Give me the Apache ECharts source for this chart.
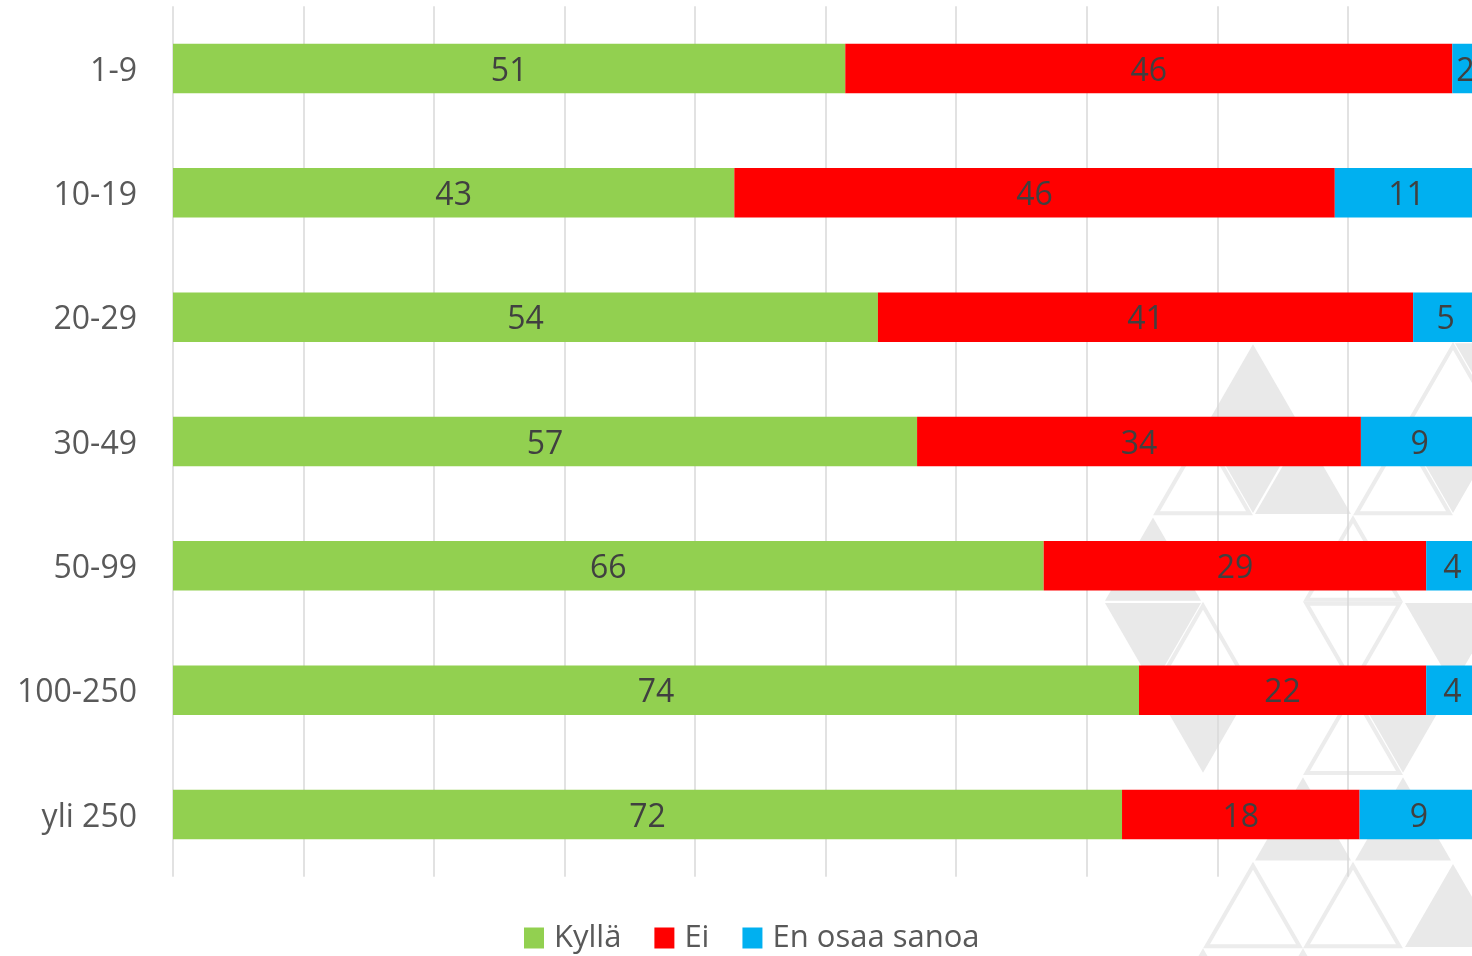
<!DOCTYPE html>
<html>
<head>
<meta charset="utf-8">
<script src="https://cdn.jsdelivr.net/npm/echarts@6/dist/echarts.min.js"></script>
<style>
  html, body { margin: 0; padding: 0; background: #ffffff; }
  #chart { width: 1472px; height: 956px; }
</style>
</head>
<body>
<div id="chart"></div>
<script>
// ---- data ----
const categories = ['1-9', '10-19', '20-29', '30-49', '50-99', '100-250', 'yli 250'];
const seriesNames = ['Kyllä', 'Ei', 'En osaa sanoa'];
const kylla = [51.5, 43.0, 54.0, 57.0, 66.7, 74.0, 72.7];
const ei    = [46.5, 46.0, 41.0, 34.0, 29.3, 22.0, 18.2];
const eos   = [2.0, 11.0, 5.0, 9.0, 4.0, 4.0, 9.1];
const colors = ['#92d050', '#ff0000', '#00b0f0'];
const FONT = '"Open Sans", "Noto Sans", sans-serif';

// ---- decorative background watermark (triangle lattice) ----
const TH = 86.6;
function V(k, n) { return [1253 - 50 * k + 100 * n, 342 + TH * k]; }
function U(k, n) { return [V(k, n), V(k + 1, n), V(k + 1, n + 1)]; }
function D(k, n) { return [V(k, n), V(k, n + 1), V(k + 1, n + 1)]; }
function inset(pts, f) {
  const cx = (pts[0][0] + pts[1][0] + pts[2][0]) / 3;
  const cy = (pts[0][1] + pts[1][1] + pts[2][1]) / 3;
  return pts.map(p => [cx + (p[0] - cx) * f, cy + (p[1] - cy) * f]);
}
const filledTris = [U(0,0), D(1,0), U(1,1), U(2,0), D(3,0), D(4,1), D(4,3), U(5,3), U(5,4), U(6,5), D(1,2), D(3,3), D(0,2)];
const outlineTris = [U(1,0), U(0,2), U(6,3), U(6,4), D(3,2), U(1,2), U(3,1), U(2,2), U(4,3), U(7,3), U(7,4)];
const graphics = [];
filledTris.forEach(t => graphics.push({
  type: 'polygon', silent: true, z: -10,
  shape: { points: inset(t, 0.96) },
  style: { fill: '#e9e9e9' }
}));
outlineTris.forEach(t => graphics.push({
  type: 'polygon', silent: true, z: -10,
  shape: { points: inset(t, 0.93) },
  style: { fill: 'none', stroke: '#ececec', lineWidth: 4 }
}));

const chart = echarts.init(document.getElementById('chart'), null, { renderer: 'canvas' });

function mkSeries(name, data, color) {
  return {
    name: name,
    type: 'bar',
    stack: 'total',
    data: data,
    barWidth: 49.5,
    itemStyle: { color: color },
    label: {
      show: true,
      position: 'inside',
      offset: [0, 3],
      formatter: p => String(Math.floor(p.value + 1e-9)),
      color: '#404040',
      fontSize: 32,
      fontFamily: FONT
    },
    emphasis: { disabled: true }
  };
}

chart.setOption({
  animation: false,
  backgroundColor: '#ffffff',
  textStyle: { fontFamily: FONT },
  graphic: { elements: graphics },
  grid: { left: 173, top: 6.3, width: 1305.4, height: 870.4, containLabel: false, outerBoundsMode: 'none' },
  legend: {
    data: seriesNames,
    left: 524,
    top: 922,
    padding: 0,
    icon: 'rect',
    itemWidth: 20,
    itemHeight: 21,
    itemGap: 33,
    selectedMode: false,
    textStyle: { fontSize: 31, color: '#595959', fontFamily: FONT, lineHeight: 32, padding: [0, 0, 0, 5] }
  },
  xAxis: {
    type: 'value',
    min: 0,
    max: 100,
    interval: 10,
    axisLine: { show: false },
    axisTick: { show: false },
    axisLabel: { show: false },
    splitLine: { show: true, lineStyle: { color: '#d9d9d9', width: 1.5 } }
  },
  yAxis: {
    type: 'category',
    data: categories,
    inverse: true,
    axisLine: { show: false },
    axisTick: { show: false },
    splitLine: { show: false },
    axisLabel: {
      margin: 36,
      formatter: v => '{a|' + v + '}',
      rich: { a: { color: '#595959', fontSize: 32, fontFamily: FONT, padding: [6, 0, 0, 0] } }
    }
  },
  series: [
    mkSeries(seriesNames[0], kylla, colors[0]),
    mkSeries(seriesNames[1], ei, colors[1]),
    mkSeries(seriesNames[2], eos, colors[2])
  ]
});
</script>
</body>
</html>
